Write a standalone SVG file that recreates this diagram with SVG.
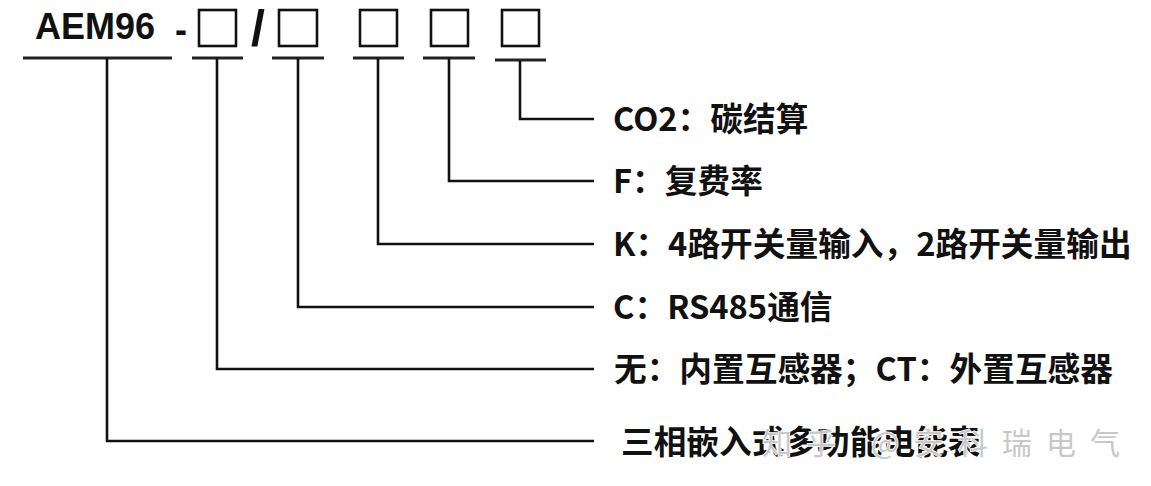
<svg xmlns="http://www.w3.org/2000/svg" width="1151" height="486" viewBox="0 0 1151 486">
<style>
.box{fill:none;stroke:#111;stroke-width:2.6}
.ul{stroke:#222;stroke-width:3;fill:none}
.con{stroke:#111;stroke-width:2.6;fill:none}
.lbl{font-family:"Noto Sans CJK SC","Noto Sans",sans-serif;font-weight:700;font-size:32.7px;fill:#111}
.code{font-family:"Liberation Sans",Arial,sans-serif;font-weight:700;font-size:36px;fill:#111}
.wm{font-family:"Noto Sans CJK SC",sans-serif;font-weight:400;font-size:30px;fill:#c8c8c8;stroke:#fff;stroke-width:1.5;paint-order:stroke}
</style>
<rect width="1151" height="486" fill="#fff"/>
<g id="code">
<text class="code" x="35" y="38.5">AEM96</text>
<text class="code" x="175" y="42">-</text>
<text class="code" x="251" y="45" style="font-size:50px">/</text>
</g>
<g id="box1"><rect class="box" x="199" y="10" width="37" height="36"/></g>
<g id="box2"><rect class="box" x="279" y="10" width="38" height="36"/></g>
<g id="box3"><rect class="box" x="360" y="10" width="37" height="36"/></g>
<g id="box4"><rect class="box" x="431" y="10" width="37" height="36"/></g>
<g id="box5"><rect class="box" x="502" y="10" width="37" height="36"/></g>
<g id="connectors">
<line class="ul" x1="23" y1="58" x2="172" y2="58"/>
<line class="ul" x1="192" y1="58" x2="243" y2="58"/>
<line class="ul" x1="272" y1="58" x2="324" y2="58"/>
<line class="ul" x1="353" y1="58" x2="404" y2="58"/>
<line class="ul" x1="423" y1="58" x2="475" y2="58"/>
<line class="ul" x1="495" y1="60" x2="546" y2="60"/>
<polyline class="con" points="520,60 520,119 594,119"/>
<polyline class="con" points="449,58 449,181 594,181"/>
<polyline class="con" points="378,58 378,244 594,244"/>
<polyline class="con" points="298,58 298,307 594,307"/>
<polyline class="con" points="217,58 217,369 594,369"/>
<polyline class="con" points="107,58 107,441 594,441"/>
</g>
<g id="label-co2"><text class="lbl" x="613" y="131">CO2：碳结算</text></g>
<g id="label-f"><text class="lbl" x="613" y="193">F：复费率</text></g>
<g id="label-k"><text class="lbl" x="613" y="256">K：4路开关量输入，2路开关量输出</text></g>
<g id="label-c"><text class="lbl" x="613" y="319">C：RS485通信</text></g>
<g id="label-ct"><text class="lbl" x="614" y="381">无：内置互感器；CT：外置互感器</text></g>
<g id="label-main"><text class="lbl" x="621" y="454">三相嵌入式多功能电能表</text></g>
<g id="watermark"><text class="wm" x="762" y="454" textLength="358" lengthAdjust="spacing">知乎 @安科瑞电气</text></g>
</svg>
